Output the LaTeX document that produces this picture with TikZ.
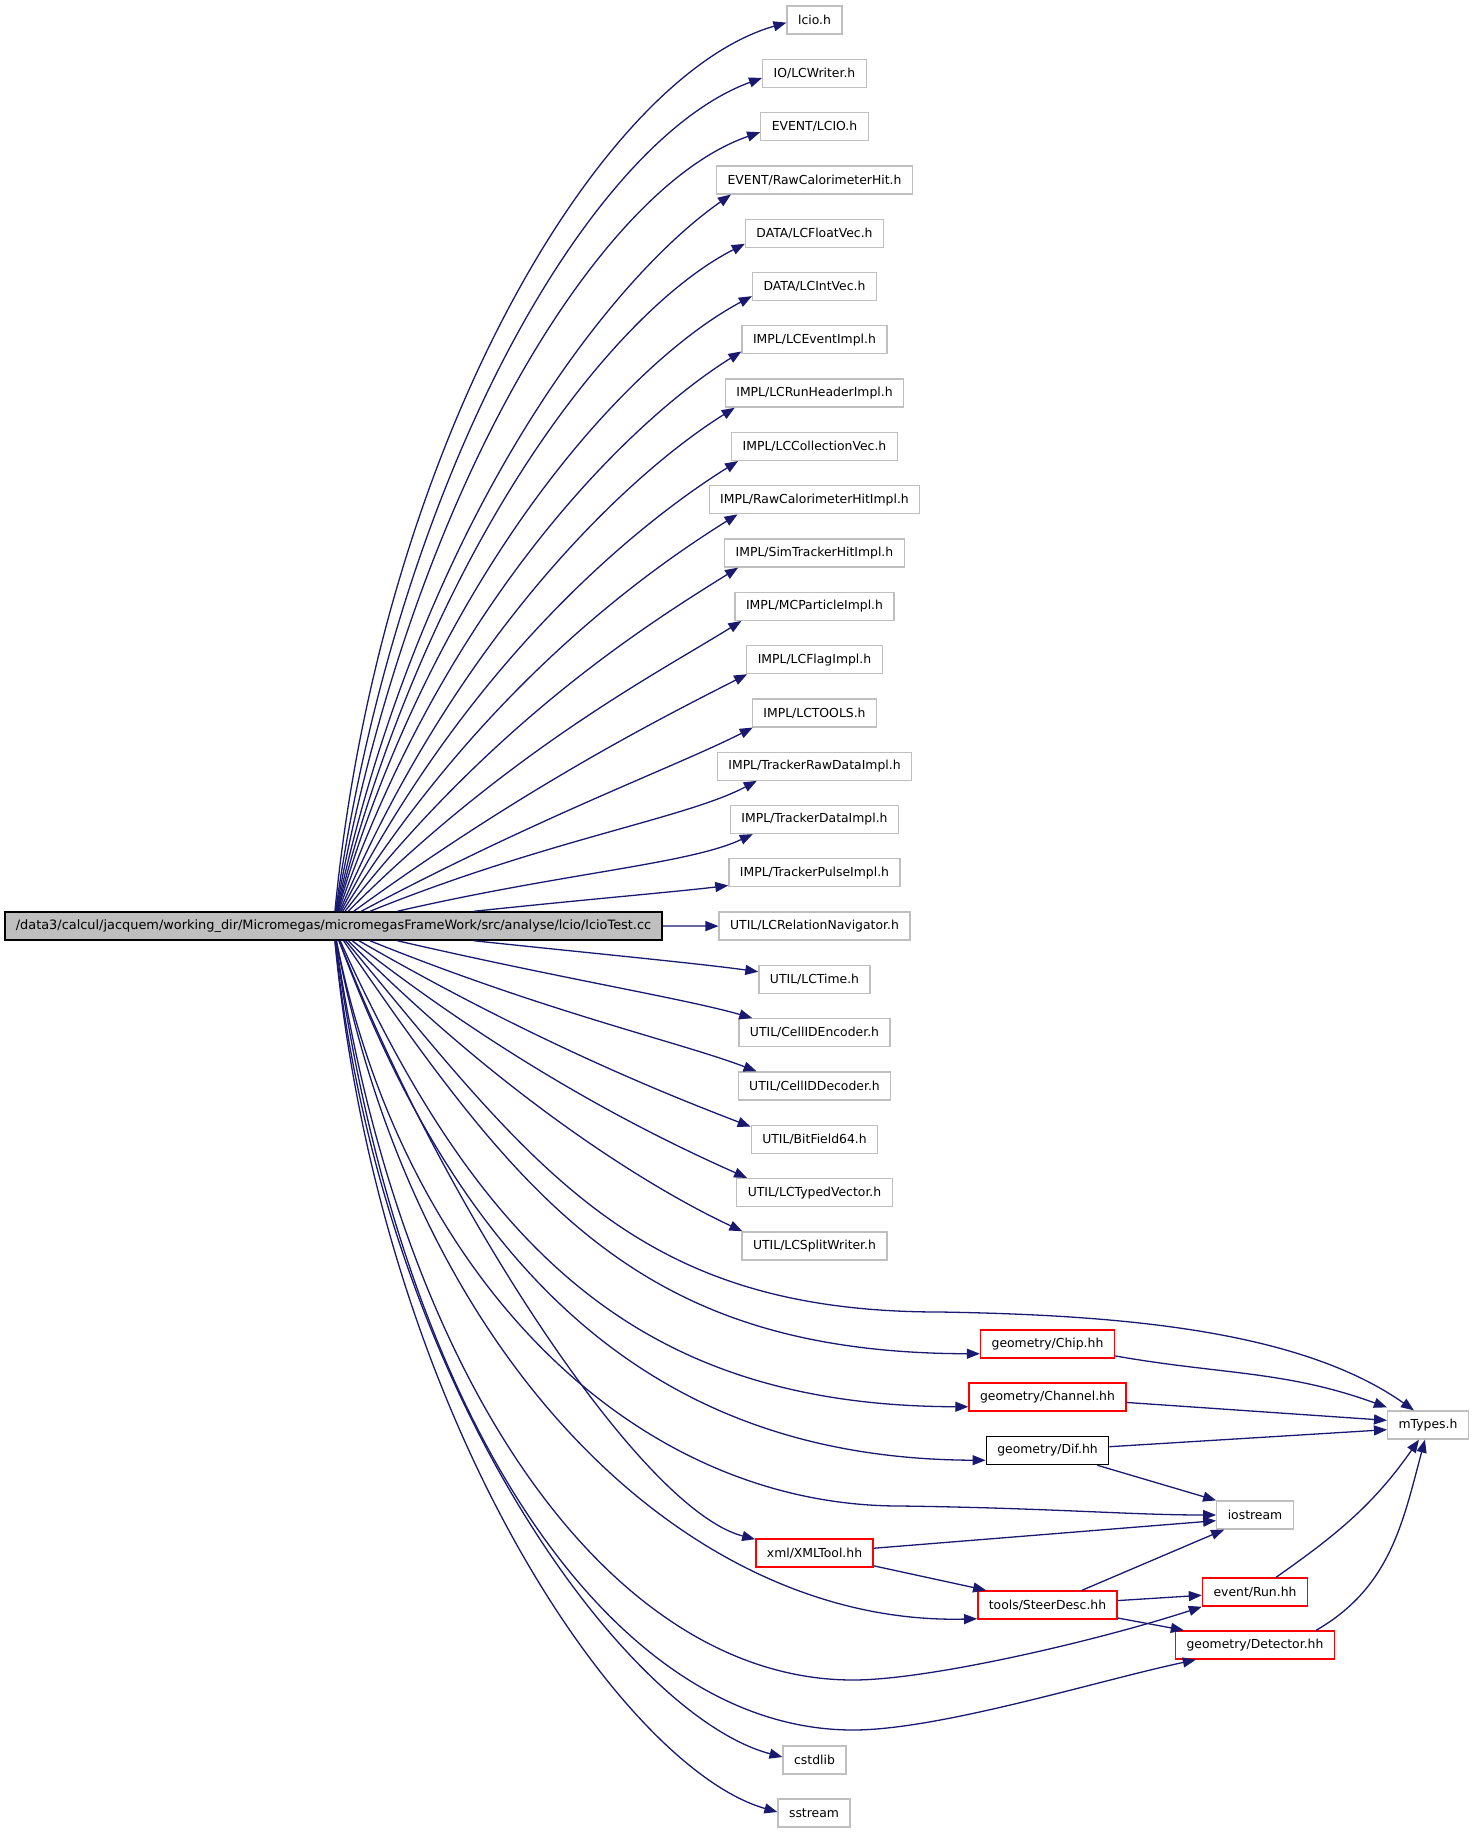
\documentclass[tikz,border=0pt]{standalone}
\usepackage{fontspec}
\setmainfont{DejaVu Sans}
\usetikzlibrary{arrows.meta}
\definecolor{edgeblue}{HTML}{191970}
\definecolor{boxgray}{HTML}{BFBFBF}
\begin{document}
\begin{tikzpicture}[x=1pt,y=1pt,
  every node/.style={font=\fontsize{12.4}{14}\selectfont, inner xsep=11pt, inner ysep=0pt, minimum height=28pt},
  gbox/.style={draw=boxgray, line width=1.3pt},
  rbox/.style={draw=red, line width=1.5pt},
  bbox/.style={draw=black, line width=1.5pt},
  mainbox/.style={draw=black, fill=boxgray, line width=1.5pt, font=\fontsize{12.9}{14}\selectfont},
  dep/.style={draw=edgeblue, line width=1.3pt, -{Triangle[length=13pt,width=10pt]}},
  tl/.style={out looseness=1.2, in looseness=0.5}]
\useasboundingbox (0,0) rectangle (1475,-1833);
% main node
\node[mainbox] (main) at (333.5,-926) {/data3/calcul/jacquem/working\_dir/Micromegas/micromegasFrameWork/src/analyse/lcio/lcioTest.cc};
% first column
\node[gbox] (n0) at (814.5,-20) {lcio.h};
\node[gbox] (n1) at (814.5,-73.3) {IO/LCWriter.h};
\node[gbox] (n2) at (814.5,-126.6) {EVENT/LCIO.h};
\node[gbox] (n3) at (814.5,-179.9) {EVENT/RawCalorimeterHit.h};
\node[gbox] (n4) at (814.5,-233.2) {DATA/LCFloatVec.h};
\node[gbox] (n5) at (814.5,-286.5) {DATA/LCIntVec.h};
\node[gbox] (n6) at (814.5,-339.8) {IMPL/LCEventImpl.h};
\node[gbox] (n7) at (814.5,-393.1) {IMPL/LCRunHeaderImpl.h};
\node[gbox] (n8) at (814.5,-446.4) {IMPL/LCCollectionVec.h};
\node[gbox] (n9) at (814.5,-499.7) {IMPL/RawCalorimeterHitImpl.h};
\node[gbox] (n10) at (814.5,-553) {IMPL/SimTrackerHitImpl.h};
\node[gbox] (n11) at (814.5,-606.3) {IMPL/MCParticleImpl.h};
\node[gbox] (n12) at (814.5,-659.6) {IMPL/LCFlagImpl.h};
\node[gbox] (n13) at (814.5,-712.9) {IMPL/LCTOOLS.h};
\node[gbox] (n14) at (814.5,-766.2) {IMPL/TrackerRawDataImpl.h};
\node[gbox] (n15) at (814.5,-819.5) {IMPL/TrackerDataImpl.h};
\node[gbox] (n16) at (814.5,-872.8) {IMPL/TrackerPulseImpl.h};
\node[gbox] (n17) at (814.5,-926.1) {UTIL/LCRelationNavigator.h};
\node[gbox] (n18) at (814.5,-979.4) {UTIL/LCTime.h};
\node[gbox] (n19) at (814.5,-1032.7) {UTIL/CellIDEncoder.h};
\node[gbox] (n20) at (814.5,-1086) {UTIL/CellIDDecoder.h};
\node[gbox] (n21) at (814.5,-1139.3) {UTIL/BitField64.h};
\node[gbox] (n22) at (814.5,-1192.6) {UTIL/LCTypedVector.h};
\node[gbox] (n23) at (814.5,-1245.9) {UTIL/LCSplitWriter.h};
\node[rbox] (xml) at (814.5,-1553) {xml/XMLTool.hh};
\node[gbox] (cstdlib) at (814.5,-1760) {cstdlib};
\node[gbox] (sstream) at (814,-1813) {sstream};
% second column
\node[rbox] (chip) at (1047.5,-1344) {geometry/Chip.hh};
\node[rbox] (channel) at (1047.5,-1397) {geometry/Channel.hh};
\node[bbox] (dif) at (1047.5,-1450.5) {geometry/Dif.hh};
\node[rbox] (steer) at (1047.5,-1605) {tools/SteerDesc.hh};
% third column
\node[gbox] (ios) at (1255,-1515) {iostream};
\node[rbox] (run) at (1255,-1592) {event/Run.hh};
\node[rbox] (det) at (1255,-1645) {geometry/Detector.hh};
% fourth column
\node[gbox] (mtypes) at (1428,-1425) {mTypes.h};

% edges to upper column
\draw[dep,tl] (main) to[out=84.5,in=196] ([yshift=12pt]n0.south west);
\draw[dep,tl] (main) to[out=82,in=200] ([yshift=10pt]n1.south west);
\draw[dep,tl] (main) to[out=80,in=199] ([yshift=9pt]n2.south west);
\draw[dep,tl] (main) to[out=78,in=215] ([xshift=15pt]n3.south west);
\draw[dep,tl] (main) to[out=76,in=207] ([yshift=4pt]n4.south west);
\draw[dep,tl] (main) to[out=74,in=208] ([yshift=5pt]n5.south west);
\draw[dep,tl] (main) to[out=71,in=212] ([yshift=3pt]n6.south west);
\draw[dep,tl] (main) to[out=67,in=212] ([xshift=10pt]n7.south west);
\draw[dep,tl] (main) to[out=63,in=212] ([xshift=7pt]n8.south west);
\draw[dep,tl] (main) to[out=58,in=212] ([xshift=29pt]n9.south west);
\draw[dep,tl] (main) to[out=52,in=212] ([xshift=14pt]n10.south west);
\draw[dep,tl] (main) to[out=45,in=212] ([xshift=7pt]n11.south west);
\draw[dep,tl] (main) to[out=36,in=207] ([xshift=1pt]n12.south west);
\draw[dep,tl] (main) to[out=28,in=207] ([xshift=1pt]n13.south west);
\draw[dep,tl] (main) to[out=22,in=208] ([xshift=40pt]n14.south west);
\draw[dep,tl] (main) to[out=13,in=205] ([xshift=23pt]n15.south west);
\draw[dep,tl] (main) to[out=6,in=187] ([yshift=2pt]n16.south west);
\draw[dep] (main) -- (n17);
\draw[dep,tl] (main) to[out=-6,in=172] ([yshift=-7pt]n18.north west);
\draw[dep,tl] (main) to[out=-13,in=164] ([xshift=14pt]n19.north west);
\draw[dep,tl] (main) to[out=-22,in=159] ([xshift=19pt]n20.north west);
\draw[dep,tl] (main) to[out=-30,in=159] ([yshift=-2pt]n21.north west);
\draw[dep,tl] (main) to[out=-38,in=156] ([xshift=11pt]n22.north west);
\draw[dep,tl] (main) to[out=-45,in=155] ([xshift=1pt]n23.north west);

% long edges below
\draw[dep] (main) .. controls (537,-1172) and (637,-1312) .. (940,-1312) .. controls (1120,-1315) and (1300,-1330) .. ([xshift=27pt]mtypes.north west);
\draw[dep] (main) .. controls (523,-1202) and (640,-1353) .. ([yshift=5pt]chip.south west);
\draw[dep] (main) .. controls (480,-1250) and (640,-1406) .. ([yshift=5pt]channel.south west);
\draw[dep] (main) .. controls (465,-1280) and (660,-1459) .. ([yshift=5pt]dif.south west);
\draw[dep] (main) .. controls (404,-1280) and (635,-1506) .. (900,-1506) .. controls (1050,-1508) and (1130,-1515) .. (ios.west);
\draw[dep] (main) .. controls (440,-1200) and (639,-1509) .. ([yshift=-1pt]xml.north west);
\draw[dep] (main) .. controls (415,-1360) and (688,-1626) .. ([yshift=1pt]steer.south west);
\draw[dep] (main) .. controls (400,-1380) and (610,-1680) .. (853,-1680) .. controls (930,-1680) and (1100,-1640) .. (run.south west);
\draw[dep] (main) .. controls (398,-1414) and (610,-1730) .. (853,-1730) .. controls (940,-1730) and (1100,-1680) .. ([xshift=21pt]det.south west);
\draw[dep] (main) .. controls (381,-1389) and (627,-1716) .. ([yshift=3pt]cstdlib.west);
\draw[dep] (main) .. controls (380,-1420) and (623,-1768) .. ([yshift=1pt]sstream.west);

% edges among the lower nodes
\draw[dep] (chip) to[out=-10,in=160] ([yshift=3pt]mtypes.north west);
\draw[dep] (channel) -- ([yshift=-10pt]mtypes.north west);
\draw[dep] (dif) -- ([yshift=10pt]mtypes.south west);
\draw[dep] (dif) -- (ios.north west);
\draw[dep] (xml) -- ([yshift=9pt]ios.south west);
\draw[dep] (xml) -- ([xshift=9pt]steer.north west);
\draw[dep] (steer) -- ([xshift=8pt]ios.south west);
\draw[dep] (steer) -- ([yshift=-18pt]run.north west);
\draw[dep] (steer) -- ([xshift=9pt]det.north west);
\draw[dep] (run) to[out=35,in=235] ([xshift=32pt]mtypes.south west);
\draw[dep] ([xshift=-19pt]det.north east) to[out=30,in=255] ([xshift=38pt]mtypes.south west);
\end{tikzpicture}
\end{document}
